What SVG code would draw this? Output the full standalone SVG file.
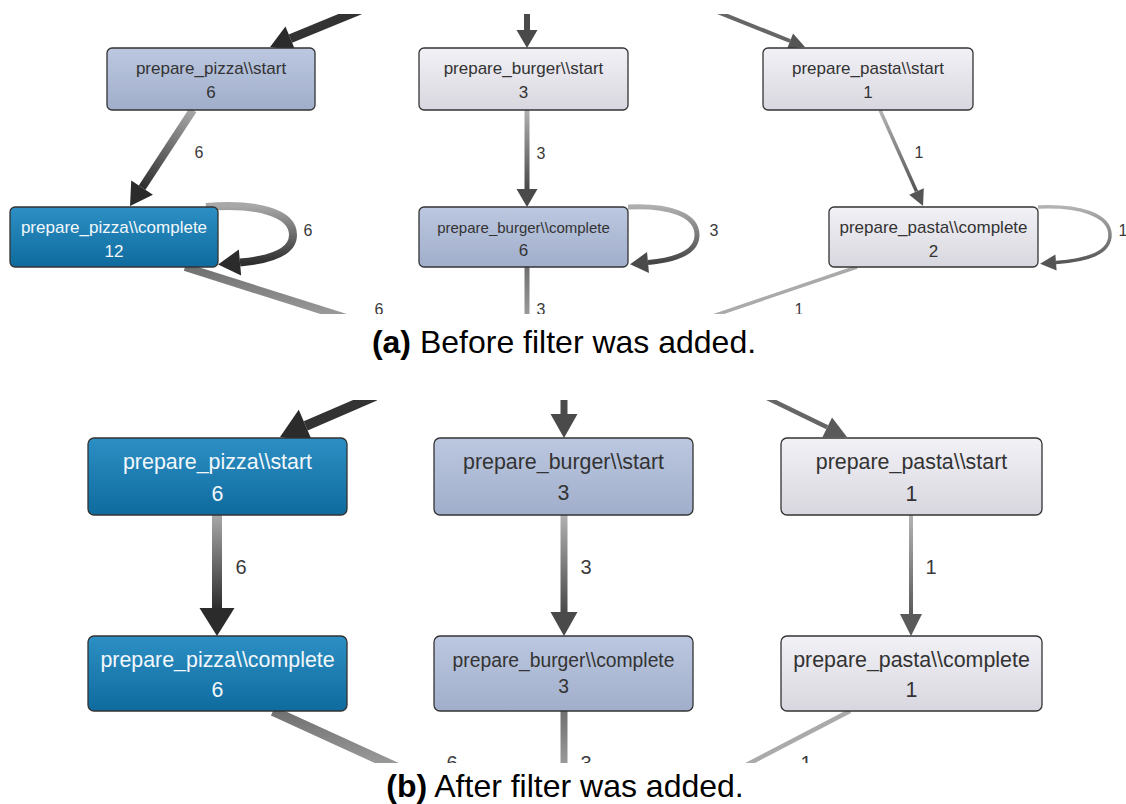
<svg xmlns="http://www.w3.org/2000/svg" width="1126" height="804" viewBox="0 0 1126 804">
<style>
.node{stroke:#333;stroke-width:1.3}
.blue{fill:url(#gBlue)}
.steel{fill:url(#gSteel)}
.gray{fill:url(#gGray)}
.t{font-family:"Liberation Sans",Arial,sans-serif;text-anchor:middle;fill:#333}
.tw{font-family:"Liberation Sans",Arial,sans-serif;text-anchor:middle;fill:#f2f7fb}
.a{font-size:17px}
.b{font-size:21.4px}
.lbl{font-family:"Liberation Sans",Arial,sans-serif;text-anchor:middle;fill:#3a3a3a}
.la{font-size:16px}
.lb{font-size:20px}
.cap{font-family:"Liberation Sans",Arial,sans-serif;font-size:32px;fill:#000;text-anchor:middle}
.e{fill:none;stroke-linecap:butt}
</style>
<defs>
<linearGradient id="gBlue" x1="0" y1="0" x2="0" y2="1"><stop offset="0" stop-color="#2c8fc4"/><stop offset="1" stop-color="#0f6b9e"/></linearGradient>
<linearGradient id="gSteel" x1="0" y1="0" x2="0" y2="1"><stop offset="0" stop-color="#bcc8e0"/><stop offset="1" stop-color="#a1aecb"/></linearGradient>
<linearGradient id="gGray" x1="0" y1="0" x2="0" y2="1"><stop offset="0" stop-color="#f2f1f6"/><stop offset="1" stop-color="#d8d7df"/></linearGradient>

<linearGradient id="eA1" gradientUnits="userSpaceOnUse" x1="193" y1="110" x2="142" y2="188"><stop offset="0" stop-color="#a8a8a8"/><stop offset="1" stop-color="#2e2e2e"/></linearGradient>
<linearGradient id="eA2" gradientUnits="userSpaceOnUse" x1="0" y1="206" x2="0" y2="263"><stop offset="0" stop-color="#a8a8a8"/><stop offset="1" stop-color="#2e2e2e"/></linearGradient>
<linearGradient id="eA3" gradientUnits="userSpaceOnUse" x1="527" y1="110" x2="527" y2="189"><stop offset="0" stop-color="#b0b0b0"/><stop offset="1" stop-color="#4a4a4a"/></linearGradient>
<linearGradient id="eA4" gradientUnits="userSpaceOnUse" x1="0" y1="206" x2="0" y2="263"><stop offset="0" stop-color="#b0b0b0"/><stop offset="1" stop-color="#444"/></linearGradient>
<linearGradient id="eA5" gradientUnits="userSpaceOnUse" x1="880" y1="110" x2="916" y2="191"><stop offset="0" stop-color="#b4b4b4"/><stop offset="1" stop-color="#555"/></linearGradient>
<linearGradient id="eA6" gradientUnits="userSpaceOnUse" x1="0" y1="206" x2="0" y2="263"><stop offset="0" stop-color="#b4b4b4"/><stop offset="1" stop-color="#555"/></linearGradient>
<linearGradient id="eOutA" gradientUnits="userSpaceOnUse" x1="0" y1="267" x2="0" y2="314"><stop offset="0" stop-color="#707070"/><stop offset="1" stop-color="#999"/></linearGradient>

<linearGradient id="eB1" gradientUnits="userSpaceOnUse" x1="217" y1="515" x2="217" y2="608"><stop offset="0" stop-color="#a8a8a8"/><stop offset="1" stop-color="#2e2e2e"/></linearGradient>
<linearGradient id="eB2" gradientUnits="userSpaceOnUse" x1="564" y1="515" x2="564" y2="612"><stop offset="0" stop-color="#b0b0b0"/><stop offset="1" stop-color="#4a4a4a"/></linearGradient>
<linearGradient id="eB3" gradientUnits="userSpaceOnUse" x1="911" y1="515" x2="911" y2="614"><stop offset="0" stop-color="#b4b4b4"/><stop offset="1" stop-color="#5a5a5a"/></linearGradient>
<linearGradient id="eOutB" gradientUnits="userSpaceOnUse" x1="0" y1="711" x2="0" y2="763"><stop offset="0" stop-color="#707070"/><stop offset="1" stop-color="#999"/></linearGradient>

<marker id="mApz" markerUnits="userSpaceOnUse" markerWidth="24" markerHeight="28" refX="0" refY="13" orient="auto" overflow="visible"><path d="M0,0 L22,13 L0,26 Z" fill="#2b2b2b"/></marker>
<marker id="mAbg" markerUnits="userSpaceOnUse" markerWidth="20" markerHeight="22" refX="0" refY="10.5" orient="auto" overflow="visible"><path d="M0,0 L18,10.5 L0,21 Z" fill="#4a4a4a"/></marker>
<marker id="mAps" markerUnits="userSpaceOnUse" markerWidth="18" markerHeight="18" refX="0" refY="8" orient="auto" overflow="visible"><path d="M0,0 L16,8 L0,16 Z" fill="#555"/></marker>
<marker id="mBpz" markerUnits="userSpaceOnUse" markerWidth="30" markerHeight="36" refX="0" refY="17.5" orient="auto" overflow="visible"><path d="M0,0 L28,17.5 L0,35 Z" fill="#2b2b2b"/></marker>
<marker id="mBbg" markerUnits="userSpaceOnUse" markerWidth="26" markerHeight="28" refX="0" refY="13.5" orient="auto" overflow="visible"><path d="M0,0 L24,13.5 L0,27 Z" fill="#4a4a4a"/></marker>
<marker id="mBps" markerUnits="userSpaceOnUse" markerWidth="24" markerHeight="24" refX="0" refY="11" orient="auto" overflow="visible"><path d="M0,0 L22,11 L0,22 Z" fill="#5a5a5a"/></marker>

<clipPath id="clipA"><rect x="0" y="14" width="1126" height="300"/></clipPath>
<clipPath id="clipB"><rect x="0" y="400" width="1126" height="363"/></clipPath>
</defs>

<rect x="0" y="0" width="1126" height="804" fill="#fff"/>

<g id="connectors">
 <g clip-path="url(#clipA)">
  <path class="e" d="M360,10 L290.4,38.6" stroke="#333" stroke-width="9" marker-end="url(#mApz)"/>
  <path class="e" d="M193,110 L142.1,187.6" stroke="url(#eA1)" stroke-width="8" marker-end="url(#mApz)"/>
  <path class="e" d="M206,207 C255,203 293,212 293,235 C293,253 268,260 240,262.5" stroke="url(#eA2)" stroke-width="8" marker-end="url(#mApz)"/>
  <path class="e" d="M185,267 L400,335" stroke="url(#eOutA)" stroke-width="8"/>
  <path class="e" d="M527,10 L527,30" stroke="#4a4a4a" stroke-width="6" marker-end="url(#mAbg)"/>
  <path class="e" d="M527,110 L527,189" stroke="url(#eA3)" stroke-width="5" marker-end="url(#mAbg)"/>
  <path class="e" d="M628,207 C670,205 697,215 697,235 C697,253 675,260 648,262.5" stroke="url(#eA4)" stroke-width="5" marker-end="url(#mAbg)"/>
  <path class="e" d="M527,267 L527,320" stroke="url(#eOutA)" stroke-width="5"/>
  <path class="e" d="M715,11 L790.1,41" stroke="#666" stroke-width="4" marker-end="url(#mAps)"/>
  <path class="e" d="M880,110 L916.5,191.4" stroke="url(#eA5)" stroke-width="3.5" marker-end="url(#mAps)"/>
  <path class="e" d="M1038,207 C1080,205 1110,215 1110,235 C1110,253 1088,260 1056,262.5" stroke="url(#eA6)" stroke-width="3.5" marker-end="url(#mAps)"/>
  <path class="e" d="M857,267 L701,320" stroke="#aaa" stroke-width="3.5"/>
  <text class="lbl la" x="199" y="158">6</text>
  <text class="lbl la" x="308" y="236">6</text>
  <text class="lbl la" x="379" y="315">6</text>
  <text class="lbl la" x="541" y="159">3</text>
  <text class="lbl la" x="714" y="236">3</text>
  <text class="lbl la" x="541" y="315">3</text>
  <text class="lbl la" x="919" y="158">1</text>
  <text class="lbl la" x="1123" y="236">1</text>
  <text class="lbl la" x="799" y="315">1</text>
 </g>
 <g clip-path="url(#clipB)">
  <path class="e" d="M375,396 L305.7,425.9" stroke="#333" stroke-width="10" marker-end="url(#mBpz)"/>
  <path class="e" d="M217,515 L217,608" stroke="url(#eB1)" stroke-width="10" marker-end="url(#mBpz)"/>
  <path class="e" d="M273,711 L413,775" stroke="url(#eOutB)" stroke-width="10"/>
  <path class="e" d="M564,396 L564,414" stroke="#4a4a4a" stroke-width="7" marker-end="url(#mBbg)"/>
  <path class="e" d="M564,515 L564,612" stroke="url(#eB2)" stroke-width="7" marker-end="url(#mBbg)"/>
  <path class="e" d="M564,711 L564,775" stroke="url(#eOutB)" stroke-width="7"/>
  <path class="e" d="M765,397 L827.2,427.3" stroke="#666" stroke-width="4.5" marker-end="url(#mBps)"/>
  <path class="e" d="M911,515 L911,614" stroke="url(#eB3)" stroke-width="4" marker-end="url(#mBps)"/>
  <path class="e" d="M850,711 L727,775" stroke="#aaa" stroke-width="4.5"/>
  <text class="lbl lb" x="241" y="574">6</text>
  <text class="lbl lb" x="586" y="574">3</text>
  <text class="lbl lb" x="931" y="574">1</text>
  <text class="lbl lb" x="452" y="770">6</text>
  <text class="lbl lb" x="586" y="770">3</text>
  <text class="lbl lb" x="806" y="770">1</text>
 </g>
</g>

<g id="a_pizza_start"><rect class="node steel" x="107" y="48" width="208" height="62" rx="5"/><text class="t a" x="211" y="74">prepare_pizza\\start</text><text class="t a" x="211" y="98">6</text></g>
<g id="a_pizza_complete"><rect class="node blue" x="10" y="207" width="208" height="60" rx="5"/><text class="tw a" x="114" y="233">prepare_pizza\\complete</text><text class="tw a" x="114" y="257">12</text></g>
<g id="a_burger_start"><rect class="node gray" x="419" y="48" width="209" height="62" rx="5"/><text class="t a" x="523.5" y="74">prepare_burger\\start</text><text class="t a" x="523.5" y="98">3</text></g>
<g id="a_burger_complete"><rect class="node steel" x="419" y="207" width="209" height="60" rx="5"/><text class="t" style="font-size:15px" x="523.5" y="233">prepare_burger\\complete</text><text class="t a" x="523.5" y="256">6</text></g>
<g id="a_pasta_start"><rect class="node gray" x="763" y="48" width="210" height="62" rx="5"/><text class="t a" x="868" y="74">prepare_pasta\\start</text><text class="t a" x="868" y="98">1</text></g>
<g id="a_pasta_complete"><rect class="node gray" x="829" y="207" width="209" height="60" rx="5"/><text class="t a" x="933.5" y="233">prepare_pasta\\complete</text><text class="t a" x="933.5" y="257">2</text></g>

<g id="b_pizza_start"><rect class="node blue" x="88" y="438" width="259" height="77" rx="6"/><text class="tw b" x="217.5" y="469">prepare_pizza\\start</text><text class="tw b" x="217.5" y="501">6</text></g>
<g id="b_pizza_complete"><rect class="node blue" x="88" y="636" width="259" height="75" rx="6"/><text class="tw b" x="217.5" y="667">prepare_pizza\\complete</text><text class="tw b" x="217.5" y="697">6</text></g>
<g id="b_burger_start"><rect class="node steel" x="434" y="438" width="259" height="77" rx="6"/><text class="t b" x="563.5" y="469">prepare_burger\\start</text><text class="t b" x="563.5" y="500">3</text></g>
<g id="b_burger_complete"><rect class="node steel" x="434" y="636" width="259" height="75" rx="6"/><text class="t" style="font-size:19.3px" x="563.5" y="667">prepare_burger\\complete</text><text class="t" style="font-size:19.3px" x="563.5" y="693">3</text></g>
<g id="b_pasta_start"><rect class="node gray" x="781" y="438" width="261" height="77" rx="6"/><text class="t b" x="911.5" y="469">prepare_pasta\\start</text><text class="t b" x="911.5" y="501">1</text></g>
<g id="b_pasta_complete"><rect class="node gray" x="781" y="636" width="261" height="75" rx="6"/><text class="t b" x="911.5" y="667">prepare_pasta\\complete</text><text class="t b" x="911.5" y="697">1</text></g>

<text class="cap" x="564" y="353"><tspan font-weight="bold">(a)</tspan> Before filter was added.</text>
<text class="cap" x="565" y="797"><tspan font-weight="bold">(b)</tspan> After filter was added.</text>
</svg>
